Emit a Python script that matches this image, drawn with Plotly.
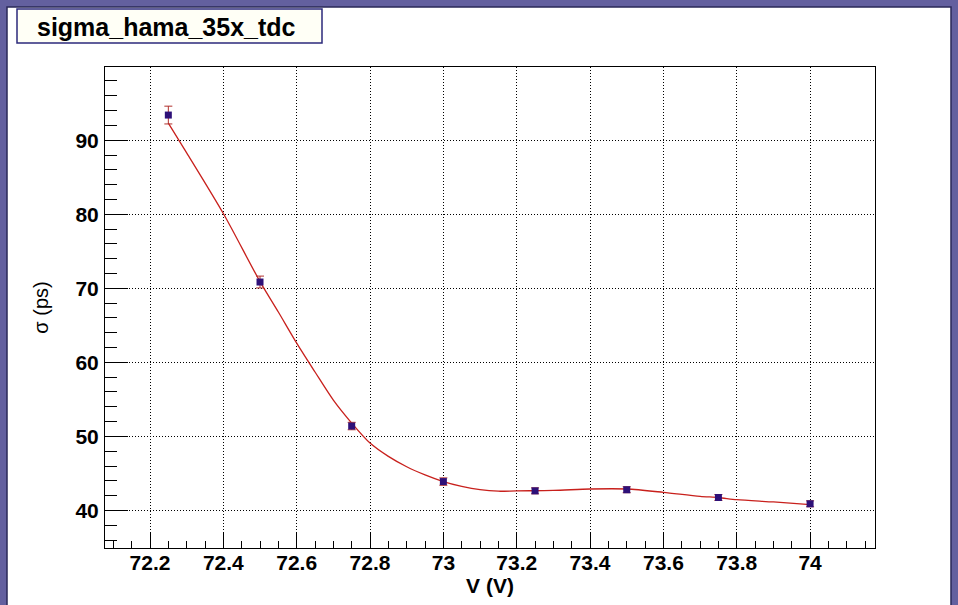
import plotly.graph_objects as go

# ---- data ----
voltage = [72.25, 72.5, 72.75, 73.0, 73.25, 73.5, 73.75, 74.0]
sigma = [93.4, 70.85, 51.4, 43.9, 42.65, 42.8, 41.75, 40.9]
sigma_err = [1.2, 0.8, 0.5, 0.5, 0.4, 0.4, 0.4, 0.4]

# fitted curve
fit_v = [72.25, 72.3, 72.4, 72.5, 72.55, 72.6, 72.65, 72.7, 72.75, 72.8, 72.85,
         72.9, 72.95, 73.0, 73.05, 73.1, 73.15, 73.2, 73.3, 73.4, 73.5, 73.6,
         73.7, 73.75, 73.8, 73.9, 74.0]
fit_sigma = [92.3, 88.3, 80.1, 70.9, 66.8, 62.6, 58.7, 54.9, 51.8, 49.1, 47.3,
             45.9, 44.8, 43.9, 43.25, 42.8, 42.6, 42.65, 42.7, 42.9, 42.9, 42.45,
             41.9, 41.75, 41.45, 41.15, 40.8]

x_ticks = [72.2, 72.4, 72.6, 72.8, 73.0, 73.2, 73.4, 73.6, 73.8, 74.0]
x_tick_labels = ["72.2", "72.4", "72.6", "72.8", "73", "73.2", "73.4", "73.6", "73.8", "74"]
y_ticks = [40, 50, 60, 70, 80, 90]
y_tick_labels = ["40", "50", "60", "70", "80", "90"]

title_text = "sigma_hama_35x_tdc"
x_title = "V (V)"
y_title = "σ (ps)"

# ---- layout geometry (pixels) ----
W, H = 958, 605
L, R, T, B = 105, 83, 67, 57
PW, PH = W - L - R, H - T - B

def px(x):
    return (x - L) / PW

def py(y):
    return (H - B - y) / PH

FONT = "Liberation Sans, Arial, Helvetica, sans-serif"

fig = go.Figure()

fig.add_trace(go.Scatter(
    x=fit_v, y=fit_sigma, mode="lines",
    line=dict(color="#c8201c", width=1.3, shape="spline", smoothing=0.8),
    hoverinfo="skip", showlegend=False,
))

fig.add_trace(go.Scatter(
    x=voltage, y=sigma, mode="markers",
    marker=dict(symbol="square", size=7, color="#2e1078"),
    error_y=dict(type="data", array=sigma_err, visible=True,
                 color="#b0302c", thickness=1, width=4),
    showlegend=False,
))

axis_common = dict(
    showline=True, linecolor="black", linewidth=1, mirror=True,
    showgrid=True, gridcolor="black", gridwidth=1, griddash="1px,2px",
    zeroline=False, ticks="inside", tickcolor="black", tickwidth=1,
    tickfont=dict(family=FONT, size=21, color="black", weight="bold"),
    automargin=False,
)

fig.update_xaxes(
    **axis_common,
    range=[72.0773, 74.177],
    tickmode="array", tickvals=x_ticks, ticktext=x_tick_labels,
    ticklen=15,
    minor=dict(dtick=0.05, tick0=72.0, ticklen=7, ticks="inside",
               tickcolor="black", tickwidth=1, showgrid=False),
    ticklabelstandoff=-4,
    title=dict(text=x_title, font=dict(family=FONT, size=21, color="black", weight="bold"),
               standoff=0),
)

fig.update_yaxes(
    **axis_common,
    range=[34.93, 99.89],
    tickmode="array", tickvals=y_ticks, ticktext=y_tick_labels,
    ticklen=23,
    minor=dict(dtick=2, tick0=0, ticklen=12, ticks="inside",
               tickcolor="black", tickwidth=1, showgrid=False),
    ticklabelstandoff=1,
    title=dict(text=y_title, font=dict(family=FONT, size=20, color="black"),
               standoff=21),
)

shapes = [
    # white canvas inside the purple frame
    dict(type="rect", xref="paper", yref="paper", layer="below",
         x0=px(7), x1=px(951), y0=py(7), y1=py(H + 2),
         fillcolor="white", line=dict(color="#2a2858", width=1.5)),
    # title box
    dict(type="rect", xref="paper", yref="paper", layer="above",
         x0=px(17), x1=px(322), y0=py(9), y1=py(43),
         fillcolor="#fffff6", line=dict(color="#2c2a7c", width=1.5)),
]

fig.update_layout(
    width=W, height=H,
    margin=dict(l=L, r=R, t=T, b=B, autoexpand=False),
    paper_bgcolor="#63609f",
    plot_bgcolor="white",
    shapes=shapes,
    annotations=[dict(
        text=title_text, xref="paper", yref="paper",
        x=px(35), y=py(26.5), xanchor="left", yanchor="middle",
        showarrow=False,
        font=dict(family=FONT, size=25, color="black", weight="bold"),
    )],
    showlegend=False,
)

fig.write_html(
    "out.html",
    config={"displayModeBar": False},
    post_script="document.body.style.margin='0';document.body.style.overflow='hidden';",
)
